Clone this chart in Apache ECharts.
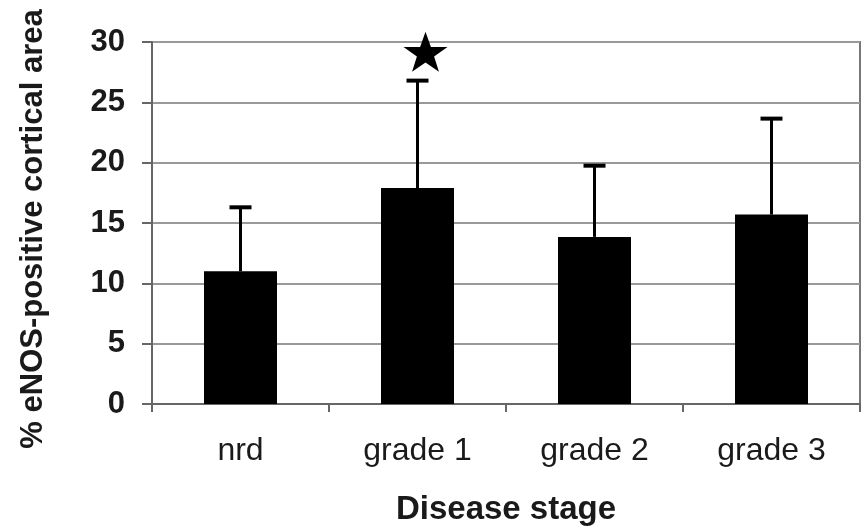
<!DOCTYPE html>
<html>
<head>
<meta charset="utf-8">
<script src="https://cdn.jsdelivr.net/npm/echarts@6/dist/echarts.min.js"></script>
<style>
html,body{margin:0;padding:0;background:#fff;}
#chart{width:862px;height:531px;}
</style>
</head>
<body>
<div id="chart"></div>
<script>
// ---- data ----
const categories = ['nrd', 'grade 1', 'grade 2', 'grade 3'];
const meanValues = [11.0, 17.9, 13.85, 15.7];
const sdValues = [5.3, 8.9, 5.9, 7.95];
const yTicks = [0, 5, 10, 15, 20, 25, 30];
const starMarks = [['grade 1', 29.2]];
const yAxisTitle = '% eNOS-positive cortical area';
const xAxisTitle = 'Disease stage';

const FONT = '"Liberation Sans", Arial, Helvetica, sans-serif';
const starPath = 'path://M50,0 L61.8,35.1 L98.1,35.1 L68.8,56.8 L79.4,91 L50,70 L20.6,91 L31.2,56.8 L1.9,35.1 L38.2,35.1 Z';

const chart = echarts.init(document.getElementById('chart'), null, {renderer: 'canvas'});
chart.setOption({
  animation: false,
  backgroundColor: '#ffffff',
  grid: {
    left: 152, right: 2, top: 42, bottom: 126,
    show: true, borderColor: '#777', borderWidth: 2, backgroundColor: 'transparent'
  },
  xAxis: {
    type: 'category',
    data: categories,
    name: xAxisTitle,
    nameLocation: 'middle',
    nameGap: 89,
    nameTextStyle: {fontFamily: FONT, fontSize: 33, fontWeight: 'bold', color: '#1a1a1a'},
    axisLine: {show: true, lineStyle: {color: '#666', width: 2}},
    axisTick: {show: true, length: 8, lineStyle: {color: '#666', width: 2}},
    axisLabel: {fontFamily: FONT, fontSize: 32, color: '#1a1a1a', margin: 31},
    splitLine: {show: false}
  },
  yAxis: {
    type: 'value',
    min: yTicks[0],
    max: yTicks[yTicks.length - 1],
    interval: yTicks[1] - yTicks[0],
    name: yAxisTitle,
    nameLocation: 'middle',
    nameGap: 103,
    nameTextStyle: {fontFamily: FONT, fontSize: 31, fontWeight: 'bold', color: '#1a1a1a', padding: [0, 12, 0, 0]},
    axisLine: {show: true, lineStyle: {color: '#666', width: 2}},
    axisTick: {show: true, length: 10, lineStyle: {color: '#666', width: 2}},
    axisLabel: {fontFamily: FONT, fontSize: 31, fontWeight: 'bold', color: '#1a1a1a', margin: 27},
    splitLine: {show: true, lineStyle: {color: '#999', width: 2}}
  },
  series: [
    {
      type: 'bar',
      data: meanValues,
      barWidth: 73,
      itemStyle: {color: '#000'},
      z: 2
    },
    {
      type: 'custom',
      data: categories.map((c, i) => [i, meanValues[i], meanValues[i] + sdValues[i]]),
      renderItem: function (params, api) {
        const base = api.coord([api.value(0), api.value(1)]);
        const top = api.coord([api.value(0), api.value(2)]);
        const capHalf = 11;
        return {
          type: 'group',
          children: [
            {type: 'line', shape: {x1: base[0], y1: base[1], x2: top[0], y2: top[1]},
             style: {stroke: '#000', lineWidth: 3}},
            {type: 'line', shape: {x1: top[0] - capHalf, y1: top[1], x2: top[0] + capHalf, y2: top[1]},
             style: {stroke: '#000', lineWidth: 4}}
          ]
        };
      },
      z: 3
    },
    {
      type: 'scatter',
      data: starMarks,
      symbol: starPath,
      symbolSize: [44, 40],
      symbolOffset: [8, 0],
      itemStyle: {color: '#000', opacity: 1},
      z: 4
    }
  ]
});
</script>
</body>
</html>
